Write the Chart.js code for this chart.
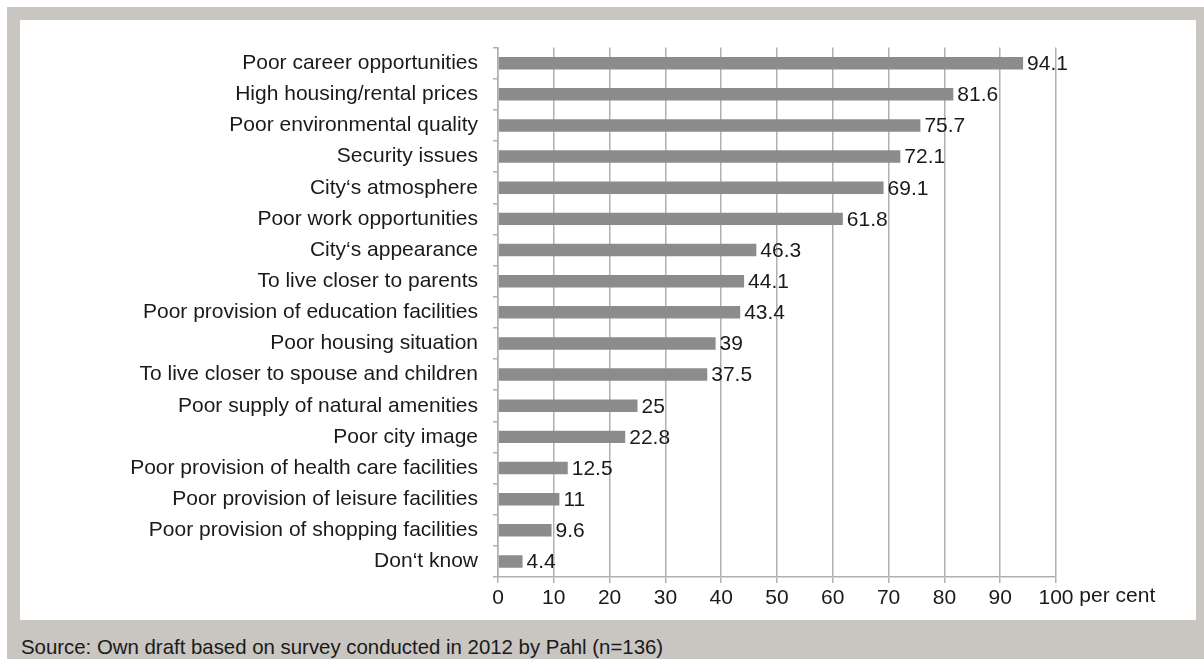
<!DOCTYPE html>
<html>
<head>
<meta charset="utf-8">
<script src="https://cdn.jsdelivr.net/npm/chart.js@4.4.1/dist/chart.umd.min.js"></script>
<style>
  html, body { margin: 0; padding: 0; background: #fff; }
  #frame {
    position: absolute; left: 7px; top: 7px; width: 1197px; height: 652px;
    background: #c9c5c0;
  }
  #panel {
    position: absolute; left: 13px; top: 13px; width: 1176px; height: 600px;
    background: #fff;
  }
  #source {
    position: absolute; left: 14px; top: 629px;
    font-family: "Liberation Sans", Arial, sans-serif; font-size: 20.4px; color: #1a1a1a;
  }
</style>
</head>
<body>
<div id="frame">
  <div id="panel"><canvas id="chart" width="1176" height="600"></canvas></div>
  <div id="source">Source: Own draft based on survey conducted in 2012 by Pahl (n=136)</div>
</div>
<script>
const categories = [
  'Poor career opportunities',
  'High housing/rental prices',
  'Poor environmental quality',
  'Security issues',
  'City\u2018s atmosphere',
  'Poor work opportunities',
  'City\u2018s appearance',
  'To live closer to parents',
  'Poor provision of education facilities',
  'Poor housing situation',
  'To live closer to spouse and children',
  'Poor supply of natural amenities',
  'Poor city image',
  'Poor provision of health care facilities',
  'Poor provision of leisure facilities',
  'Poor provision of shopping facilities',
  'Don\u2018t know'
];
const shares = [94.1, 81.6, 75.7, 72.1, 69.1, 61.8, 46.3, 44.1, 43.4, 39, 37.5, 25, 22.8, 12.5, 11, 9.6, 4.4];
const xTicks = [0, 10, 20, 30, 40, 50, 60, 70, 80, 90, 100];
const unitLabel = 'per cent';

const FONT = '"Liberation Sans", Arial, sans-serif';
const FSIZE = 21;
const TEXT = '#1a1a1a';
const GRID = '#b0b0b0';

// value labels at the end of each bar + unit after the last x tick
const labelsPlugin = {
  id: 'labels',
  afterDatasetsDraw(chart) {
    const ctx = chart.ctx;
    const meta = chart.getDatasetMeta(0);
    ctx.save();
    ctx.font = FSIZE + 'px ' + FONT;
    ctx.fillStyle = TEXT;
    ctx.textBaseline = 'middle';
    ctx.textAlign = 'left';
    meta.data.forEach((bar, i) => {
      ctx.fillText(String(shares[i]), bar.x + 4, bar.y + 1);
    });
    const xs = chart.scales.x;
    const last = xTicks[xTicks.length - 1];
    const px = xs.getPixelForValue(last) + ctx.measureText(String(last)).width / 2;
    ctx.textBaseline = 'top';
    ctx.fillText(' ' + unitLabel, px, xs.top + 6 + 3);
    ctx.restore();
  }
};

new Chart(document.getElementById('chart'), {
  type: 'bar',
  data: {
    labels: categories,
    datasets: [{
      data: shares,
      backgroundColor: '#8c8c8c',
      barPercentage: 0.4,
      categoryPercentage: 1
    }]
  },
  options: {
    indexAxis: 'y',
    responsive: false,
    animation: false,
    layout: { padding: { top: 27, right: 140, left: 0, bottom: 0 } },
    plugins: { legend: { display: false }, tooltip: { enabled: false } },
    scales: {
      x: {
        min: 0, max: 100,
        afterBuildTicks: s => { s.ticks = xTicks.map(v => ({ value: v })); },
        afterFit: s => { s.height = 43; },
        grid: { color: GRID, lineWidth: 1.5, tickLength: 6, drawTicks: true },
        border: { color: GRID, width: 1.5 },
        ticks: { color: TEXT, font: { family: FONT, size: FSIZE }, padding: 3, maxRotation: 0, autoSkip: false }
      },
      y: {
        afterFit: s => { s.width = 478; },
        grid: { offset: true, drawOnChartArea: false, color: GRID, lineWidth: 1.5, tickLength: 5 },
        border: { color: GRID, width: 1.5 },
        ticks: { color: TEXT, font: { family: FONT, size: FSIZE }, padding: 15, autoSkip: false }
      }
    }
  },
  plugins: [labelsPlugin]
});
</script>
</body>
</html>
